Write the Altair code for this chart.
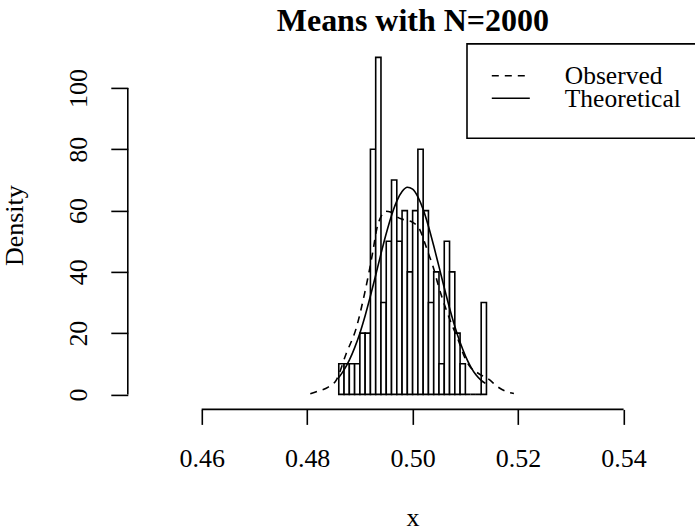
import altair as alt
import pandas as pd

# ---------------- data ----------------
bin_left = [0.486, 0.487, 0.488, 0.489, 0.490, 0.491, 0.492, 0.493, 0.494, 0.495,
            0.496, 0.497, 0.498, 0.499, 0.500, 0.501, 0.502, 0.503, 0.504, 0.505,
            0.506, 0.507, 0.508, 0.509, 0.510, 0.511, 0.512, 0.513]
bin_right = [0.487, 0.488, 0.489, 0.490, 0.491, 0.492, 0.493, 0.494, 0.495, 0.496,
             0.497, 0.498, 0.499, 0.500, 0.501, 0.502, 0.503, 0.504, 0.505, 0.506,
             0.507, 0.508, 0.509, 0.510, 0.511, 0.512, 0.513, 0.514]
density = [10, 10, 10, 10, 20, 20, 80, 110, 30, 50,
           70, 50, 60, 40, 60, 80, 60, 30, 40, 10,
           50, 40, 20, 10, 0, 0, 0, 30]

obs_x = [0.4806, 0.4820, 0.4840, 0.4855, 0.4874, 0.4893, 0.4909, 0.4918, 0.4925,
         0.4932, 0.4940, 0.4948, 0.4958, 0.4968, 0.4978, 0.4990, 0.5000, 0.5014,
         0.5022, 0.5030, 0.5039, 0.5048, 0.5064, 0.5075, 0.5086, 0.5099, 0.5110,
         0.5121, 0.5133, 0.5143, 0.5162, 0.5178, 0.5192]
obs_y = [0.2, 1.0, 2.4, 4.6, 13.3, 21.6, 33.0, 40.5, 47.0,
         54.0, 58.0, 59.8, 59.5, 58.2, 57.3, 56.8, 56.2, 53.6,
         50.0, 46.0, 41.6, 36.0, 27.5, 22.5, 18.0, 12.0, 8.8,
         7.3, 6.0, 5.1, 2.4, 0.9, 0.3]

theo_x = [0.486, 0.487, 0.488, 0.489, 0.490, 0.491, 0.492, 0.493, 0.494, 0.495,
          0.496, 0.497, 0.498, 0.499, 0.500, 0.501, 0.502, 0.503, 0.504, 0.505,
          0.506, 0.507, 0.508, 0.509, 0.510, 0.511, 0.512, 0.513, 0.5138]
theo_y = [5.5, 8.0, 11.2, 15.2, 20.0, 25.7, 32.1, 38.9, 45.9, 52.5,
          58.4, 63.1, 66.2, 67.6, 67.0, 64.5, 60.4, 54.9, 48.5, 41.7,
          34.8, 28.2, 22.2, 17.0, 12.6, 9.1, 6.4, 4.6, 3.6]

x_ticks = [0.46, 0.48, 0.50, 0.52, 0.54]
y_ticks = [0, 20, 40, 60, 80, 100]
title_text = "Means with N=2000"
x_label = "x"
y_label = "Density"
legend_labels = ["Observed", "Theoretical"]

# ---------------- styling ----------------
W, H = 567, 364
FONT = "Liberation Serif"
LW = 1.6
DASH = [7, 6]

xs = alt.Scale(domain=[0.446, 0.5535], nice=False, zero=False)
ys = alt.Scale(domain=[-4.4, 114.4], nice=False, zero=False)

hist_df = pd.DataFrame({"left": bin_left, "right": bin_right, "density": density})
obs_df = pd.DataFrame({"x": obs_x, "y": obs_y})
theo_df = pd.DataFrame({"x": theo_x, "y": theo_y})

x_axis = alt.Axis(values=x_ticks, format=".2f", domain=False, grid=False,
                  tickSize=15, tickWidth=LW, tickColor="black",
                  labelFont=FONT, labelFontSize=26, labelColor="black",
                  labelPadding=42, labelBaseline="alphabetic",
                  labelFlush=False, labelOverlap=False, offset=1.5, title=None)
y_axis = alt.Axis(values=y_ticks, domain=False, grid=False,
                  tickSize=17, tickWidth=LW, tickColor="black",
                  labelFont=FONT, labelFontSize=26, labelColor="black",
                  labelAngle=270, labelAlign="center", labelBaseline="alphabetic",
                  labelPadding=24, labelFlush=False, labelOverlap=False, title=None)


def X(field):
    return alt.X(field, scale=xs, axis=x_axis)


def Y(field):
    return alt.Y(field, scale=ys, axis=y_axis)


bars = alt.Chart(hist_df).mark_rect(fill="white", stroke="black", strokeWidth=LW).encode(
    x=X("left:Q"),
    x2="right:Q",
    y=Y("density:Q"),
    y2=alt.datum(0),
)

obs_line = alt.Chart(obs_df).mark_line(color="black", strokeWidth=LW, strokeDash=DASH,
                                       interpolate="monotone").encode(
    x=X("x:Q"), y=Y("y:Q"))

theo_line = alt.Chart(theo_df).mark_line(color="black", strokeWidth=LW,
                                         interpolate="monotone").encode(
    x=X("x:Q"), y=Y("y:Q"))

x_axis_line = alt.Chart(pd.DataFrame({"a": [x_ticks[0]], "b": [x_ticks[-1]]})).mark_rule(
    color="black", strokeWidth=LW).encode(
    x=X("a:Q"), x2="b:Q", y=alt.value(H + 1.5))

y_axis_line = alt.Chart(pd.DataFrame({"a": [y_ticks[0]], "b": [y_ticks[-1]]})).mark_rule(
    color="black", strokeWidth=LW).encode(
    y=Y("a:Q"), y2="b:Q", x=alt.value(0))

one = pd.DataFrame({"k": [0]})

legend_box = alt.Chart(one).mark_rect(fill="white", stroke="black", strokeWidth=LW).encode(
    x=alt.value(339.2), x2=alt.value(580), y=alt.value(0), y2=alt.value(94.4))

leg_dash = alt.Chart(one).mark_rule(color="black", strokeWidth=LW, strokeDash=DASH).encode(
    x=alt.value(364), x2=alt.value(402), y=alt.value(31.8))
leg_solid = alt.Chart(one).mark_rule(color="black", strokeWidth=LW).encode(
    x=alt.value(364), x2=alt.value(402), y=alt.value(54.4))

leg_text1 = alt.Chart(pd.DataFrame({"label": [legend_labels[0]]})).mark_text(
    align="left", baseline="alphabetic", font=FONT, fontSize=25.5, color="black").encode(
    text="label:N", x=alt.value(437), y=alt.value(39.6))
leg_text2 = alt.Chart(pd.DataFrame({"label": [legend_labels[1]]})).mark_text(
    align="left", baseline="alphabetic", font=FONT, fontSize=25.5, color="black").encode(
    text="label:N", x=alt.value(437), y=alt.value(62.6))

title_mark = alt.Chart(pd.DataFrame({"t": [title_text]})).mark_text(
    align="center", baseline="alphabetic", font=FONT, fontSize=32, fontWeight="bold",
    color="black").encode(text="t:N", x=alt.value(285.1), y=alt.value(-13.4))

xlab_mark = alt.Chart(pd.DataFrame({"t": [x_label]})).mark_text(
    align="center", baseline="alphabetic", font=FONT, fontSize=26, color="black").encode(
    text="t:N", x=alt.value(285.1), y=alt.value(482.5))

ylab_mark = alt.Chart(pd.DataFrame({"t": [y_label]})).mark_text(
    align="center", baseline="alphabetic", font=FONT, fontSize=26, color="black",
    angle=270).encode(text="t:N", x=alt.value(-104.3), y=alt.value(181.8))

chart = alt.layer(
    bars, obs_line, theo_line, x_axis_line, y_axis_line,
    legend_box, leg_dash, leg_solid, leg_text1, leg_text2,
    title_mark, xlab_mark, ylab_mark,
).properties(
    width=W, height=H,
    padding={"left": 127.8, "top": 43.9, "right": 0, "bottom": 123.1},
    autosize=alt.AutoSizeParams(type="none"),
    background="white",
).configure_view(stroke=None)

chart.save("out.html", embed_options={"renderer": "svg", "actions": False})
